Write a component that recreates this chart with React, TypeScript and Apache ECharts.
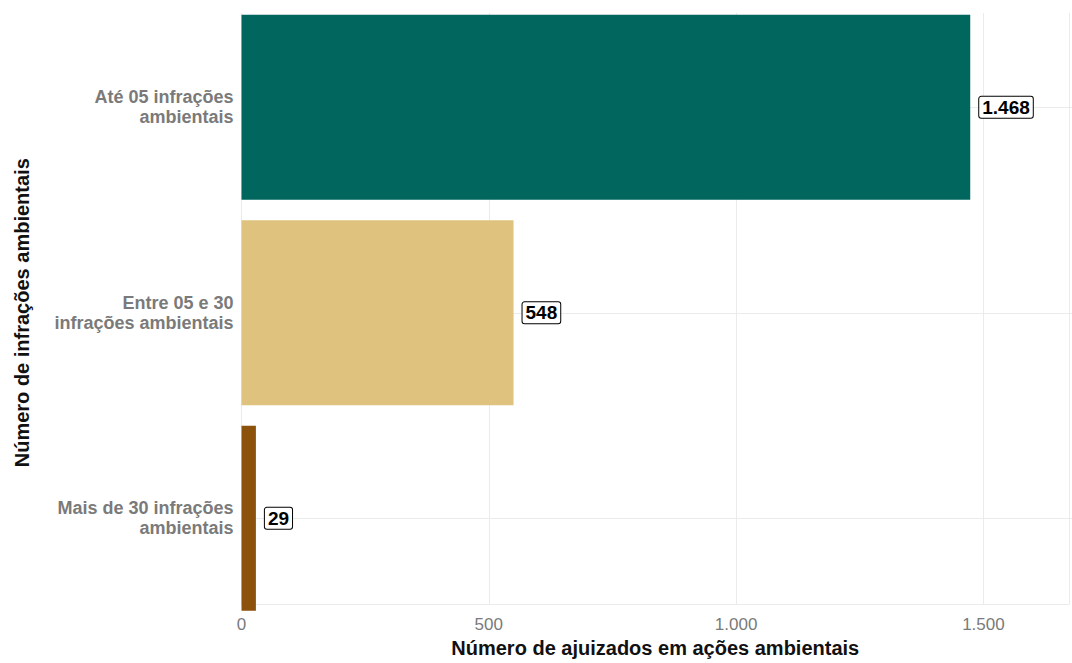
import React, { useEffect, useRef } from "react";
import * as echarts from "echarts";

const categories = [
  "Até 05 infrações\nambientais",
  "Entre 05 e 30\ninfrações ambientais",
  "Mais de 30 infrações\nambientais",
];
const values = [1468, 548, 29];
const barColors = ["#01665E", "#DFC27D", "#8C510A"];
const xTicks = [0, 500, 1000, 1500];
const xMax = 1673;
const xTitle = "Número de ajuizados em ações ambientais";
const yTitle = "Número de infrações ambientais";

const fmt = (v: number) =>
  String(Math.round(v)).replace(/\B(?=(\d{3})+(?!\d))/g, ".");

const FONT = "'Liberation Sans', Arial, sans-serif";

export default function App() {
  const ref = useRef<HTMLDivElement>(null);
  useEffect(() => {
    if (!ref.current) return;
    const chart = echarts.init(ref.current, null, { renderer: "svg" });
    chart.setOption({
      animation: false,
      backgroundColor: "#ffffff",
      textStyle: { fontFamily: FONT },
      grid: [
        { left: 241.5, right: 0, top: 4.5, height: 616.5 },
        { left: 241.5, right: 0, top: 13, height: 598 },
      ],
      xAxis: [
        { gridIndex: 0, type: "value", min: 0, max: xMax, show: false },
        {
          gridIndex: 1,
          type: "value",
          min: 0,
          max: xMax,
          interval: 500,
          axisLine: { show: true, lineStyle: { color: "#ebebeb", width: 1 } },
          axisTick: { show: false },
          splitLine: { show: true, lineStyle: { color: "#ebebeb", width: 1 } },
          axisLabel: {
            margin: 12,
            color: "#7a7a7a",
            fontSize: 17,
            fontFamily: FONT,
            formatter: (v: number) => (xTicks.includes(v) ? fmt(v) : ""),
          },
          name: xTitle,
          nameLocation: "middle",
          nameGap: 33,
          nameTextStyle: {
            color: "#111",
            fontSize: 20,
            fontWeight: "bold",
            fontFamily: FONT,
          },
        },
      ],
      yAxis: [
        {
          gridIndex: 0,
          type: "category",
          inverse: true,
          data: categories,
          axisLine: { show: false },
          axisTick: { show: false },
          splitLine: { show: false },
          axisLabel: {
            margin: 8,
            color: "#7a7a7a",
            fontSize: 18,
            fontWeight: "bold",
            fontFamily: FONT,
            align: "right",
            lineHeight: 20,
          },
          name: yTitle,
          nameLocation: "middle",
          nameRotate: 90,
          nameGap: 210,
          nameTextStyle: {
            color: "#111",
            fontSize: 20,
            fontWeight: "bold",
            fontFamily: FONT,
          },
        },
        {
          gridIndex: 1,
          type: "value",
          min: 0,
          max: 1,
          show: false,
        },
      ],
      series: [
        {
          type: "line",
          xAxisIndex: 0,
          yAxisIndex: 0,
          data: [],
          z: 0,
          silent: true,
          markLine: {
            silent: true,
            z: 0,
            zlevel: 0,
            symbol: "none",
            label: { show: false },
            lineStyle: { color: "#ebebeb", width: 1, type: "solid" },
            data: categories.map((c) => ({ yAxis: c })),
          },
        },
        {
          type: "bar",
          xAxisIndex: 0,
          yAxisIndex: 0,
          barWidth: "90%",
          z: 3,
          data: values.map((v, i) => ({
            value: v,
            itemStyle: { color: barColors[i] },
          })),
          label: {
            show: true,
            position: "right",
            distance: 9,
            formatter: (p: any) => fmt(p.value),
            color: "#000",
            fontSize: 19,
            fontWeight: "bold",
            fontFamily: FONT,
            backgroundColor: "#ffffff",
            borderColor: "#000",
            borderWidth: 1,
            borderRadius: 2,
            padding: [2, 3, 0, 3],
          },
        },
      ],
    });
    return () => chart.dispose();
  }, []);
  return (
    <div
      ref={ref}
      style={{
        width: 1072,
        height: 663,
        position: "fixed",
        left: 0,
        top: 0,
      }}
    />
  );
}
